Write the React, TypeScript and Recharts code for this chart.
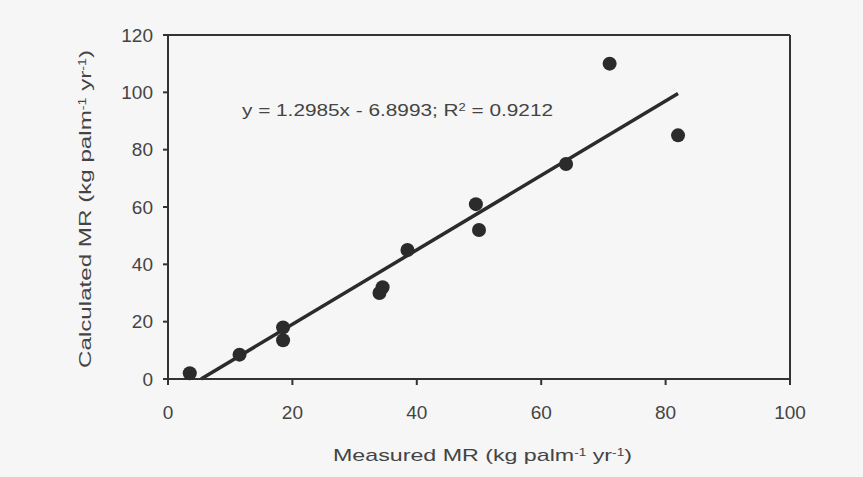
import {
  Customized,
  ReferenceLine,
  Scatter,
  ScatterChart,
  XAxis,
  YAxis,
} from "recharts";

const measured = [3.5, 11.5, 18.5, 18.5, 34.5, 34, 38.5, 49.5, 50, 64, 71, 82];
const calculated = [2, 8.5, 18, 13.5, 32, 30, 45, 61, 52, 75, 110, 85];
const xTicks = [0, 20, 40, 60, 80, 100];
const yTicks = [0, 20, 40, 60, 80, 100, 120];
const slope = 1.2985;
const intercept = -6.8993;
const rSquared = 0.9212;

const INK = "#333";
const TEXT = "#444";
const FONT = "'Liberation Sans', Arial, sans-serif";

const points = measured.map((x, i) => ({ x, y: calculated[i] }));
const xMax = Math.max(...measured);
const fitSegment = [
  { x: -intercept / slope, y: 0 },
  { x: xMax, y: slope * xMax + intercept },
];

const Dot = (props: any) => <circle cx={props.cx} cy={props.cy} r={7} fill="#2b2b2b" />;

// scanned figure is stretched sideways, so text is widened with textLength
const Unit = () => (
  <>
    (kg palm
    <tspan baselineShift="super" fontSize={10}>-1</tspan> yr
    <tspan baselineShift="super" fontSize={10}>-1</tspan>)
  </>
);

const Equation = () => (
  <text
    x={242}
    y={116}
    fontSize={16}
    fill={TEXT}
    fontFamily={FONT}
    textLength={311}
    lengthAdjust="spacingAndGlyphs"
  >
    y = {slope}x - {Math.abs(intercept)}; R
    <tspan baselineShift="super" fontSize={10}>2</tspan> = {rSquared}
  </text>
);

export default function App() {
  return (
    <div style={{ position: "absolute", left: 0, top: 0, width: 863, height: 477, background: "#f6f6f6" }}>
      <ScatterChart width={863} height={477} margin={{ top: 35, right: 73, left: 108, bottom: 58 }}>
        <XAxis
          type="number"
          dataKey="x"
          domain={[0, 100]}
          ticks={xTicks}
          tickSize={6}
          tickMargin={21}
          height={40}
          stroke={INK}
          strokeWidth={2}
          tick={{ fontSize: 19, fill: TEXT, fontFamily: FONT }}
          label={{
            content: () => (
              <text
                x={333}
                y={461}
                fontSize={17}
                fill={TEXT}
                fontFamily={FONT}
                textLength={299}
                lengthAdjust="spacingAndGlyphs"
              >
                Measured MR <Unit />
              </text>
            ),
          }}
        />
        <YAxis
          type="number"
          dataKey="y"
          domain={[0, 120]}
          ticks={yTicks}
          tickSize={5}
          tickMargin={10}
          width={60}
          stroke={INK}
          strokeWidth={2}
          tick={{ fontSize: 19, fill: TEXT, fontFamily: FONT }}
          label={{
            content: () => (
              <text
                x={91}
                y={368}
                fontSize={17}
                fill={TEXT}
                fontFamily={FONT}
                textLength={318}
                lengthAdjust="spacingAndGlyphs"
                transform="rotate(-90 91 368)"
              >
                Calculated MR <Unit />
              </text>
            ),
          }}
        />
        <ReferenceLine y={120} stroke={INK} strokeWidth={2} />
        <ReferenceLine x={100} stroke={INK} strokeWidth={2} />
        <ReferenceLine segment={fitSegment} stroke="#2b2b2b" strokeWidth={3.5} />
        <Scatter data={points} shape={Dot} isAnimationActive={false} />
        <Customized component={Equation} />
      </ScatterChart>
    </div>
  );
}
